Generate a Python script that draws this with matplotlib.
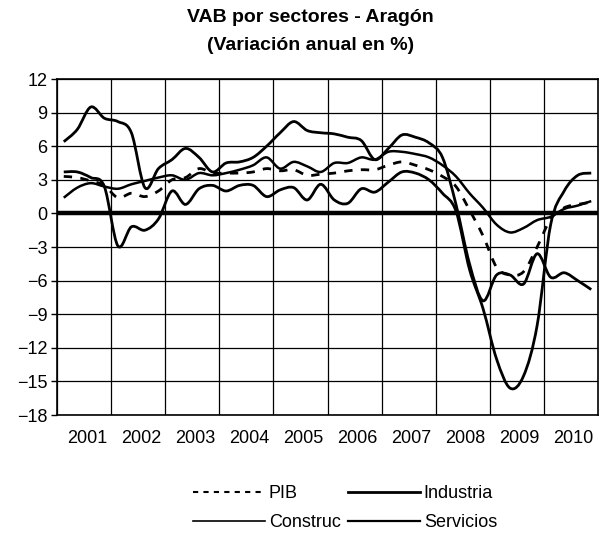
import numpy as np
import matplotlib.pyplot as plt
from matplotlib.path import Path
from matplotlib.patches import PathPatch
from matplotlib.lines import Line2D

# quarterly data, 2001Q1 .. 2010Q4 (variación anual en %)
years = list(range(2001, 2011))
quarters = 2001 + (np.arange(40) + 0.5) / 4

pib = [3.3, 3.2, 2.9, 2.5, 1.4, 1.8, 1.5, 2.0, 3.0, 3.2,
       4.0, 3.6, 3.6, 3.6, 3.7, 4.0, 3.8, 3.9, 3.4, 3.5,
       3.6, 3.8, 3.9, 3.9, 4.3, 4.6, 4.3, 3.9, 3.3, 2.4,
       0.3, -2.0, -4.8, -5.5, -5.2, -3.0, -0.5, 0.5, 0.8, 1.0]

industria = [3.7, 3.7, 3.2, 2.4, -2.9, -1.2, -1.5, -0.5, 2.0, 0.8,
             2.2, 2.5, 2.0, 2.5, 2.5, 1.5, 2.1, 2.3, 1.2, 2.6,
             1.2, 0.9, 2.2, 1.9, 2.8, 3.7, 3.6, 3.0, 1.8, 0.2,
             -5.0, -8.5, -13.0, -15.6, -14.5, -10.0, -1.0, 2.0, 3.4, 3.6]

construc = [6.4, 7.5, 9.5, 8.5, 8.2, 7.2, 2.3, 4.0, 4.8, 5.8,
            5.0, 3.7, 4.5, 4.6, 5.0, 6.0, 7.2, 8.2, 7.4, 7.2,
            7.1, 6.8, 6.5, 4.8, 5.8, 7.0, 6.8, 6.3, 5.0, 0.8,
            -4.5, -7.8, -5.5, -5.5, -6.3, -3.6, -5.7, -5.3, -6.0, -6.8]

servicios = [1.4, 2.3, 2.7, 2.4, 2.2, 2.6, 2.9, 3.2, 3.4, 3.0,
             3.6, 3.4, 3.6, 3.9, 4.3, 5.0, 4.0, 4.6, 4.2, 3.7,
             4.5, 4.5, 5.0, 4.8, 5.5, 5.5, 5.3, 5.0, 4.3, 3.3,
             1.8, 0.5, -1.0, -1.7, -1.3, -0.6, -0.3, 0.4, 0.7, 1.1]


def smooth_path(x, y):
    # smoothed line like Excel: Catmull-Rom converted to cubic Bezier segments
    pts = np.column_stack([x, y])
    verts = [pts[0]]
    codes = [Path.MOVETO]
    n = len(pts)
    for i in range(n - 1):
        p0 = pts[i - 1] if i > 0 else pts[i]
        p1 = pts[i]
        p2 = pts[i + 1]
        p3 = pts[i + 2] if i + 2 < n else pts[i + 1]
        verts += [p1 + (p2 - p0) / 6, p2 - (p3 - p1) / 6, p2]
        codes += [Path.CURVE4] * 3
    return Path(verts, codes)


plt.rcParams['font.family'] = ['Liberation Sans', 'DejaVu Sans']

fig = plt.figure(figsize=(6.07, 5.33), dpi=100)
ax = fig.add_axes([57 / 607, 1 - 415 / 533, 541 / 607, 336 / 533])

series = [
    (pib, dict(lw=2.0, ls=(0, (3, 3)))),
    (industria, dict(lw=2.0, ls='-')),
    (construc, dict(lw=2.0, ls='-')),
    (servicios, dict(lw=1.8, ls='-')),
]
for vals, st in series:
    ax.add_patch(PathPatch(smooth_path(quarters, vals), fill=False,
                           edgecolor='black', zorder=3, **st))

ax.axhline(0, color='black', lw=3.2, zorder=4)

ax.set_xlim(2001, 2011)
ax.set_ylim(-18, 12)
ax.set_yticks(np.arange(-18, 13, 3))
ax.set_xticks(years, minor=True)
ax.set_xticks([y + 0.55 for y in years])
ax.set_xticklabels([str(y) for y in years])
ax.grid(True, which='minor', axis='x', color='black', lw=0.9)
ax.grid(True, which='major', axis='y', color='black', lw=0.9)
ax.tick_params(axis='x', which='both', length=0, labelsize=13, pad=11)
ax.tick_params(axis='y', length=4, width=1, labelsize=13, pad=3)
for s in ax.spines.values():
    s.set_linewidth(1.2)

fig.text(0.512, 1 - 18 / 533, 'VAB por sectores - Aragón', ha='center',
         va='center', fontsize=14, fontweight='bold')
fig.text(0.512, 1 - 46 / 533, '(Variación anual en %)', ha='center',
         va='center', fontsize=14, fontweight='bold')

handles = [
    Line2D([], [], color='black', lw=1.5, ls=(0, (2.5, 2.5))),
    Line2D([], [], color='black', lw=1.2),
    Line2D([], [], color='black', lw=2.0),
    Line2D([], [], color='black', lw=1.6),
]
labels = ['PIB', 'Construc', 'Industria', 'Servicios']
fig.legend(handles, labels, ncol=2, frameon=False, fontsize=13,
           loc='center', bbox_to_anchor=(345 / 607, 1 - 508 / 533),
           handlelength=4.0, handletextpad=0.2, columnspacing=0.4,
           labelspacing=0.65)

fig.savefig('out.png', dpi=100)
